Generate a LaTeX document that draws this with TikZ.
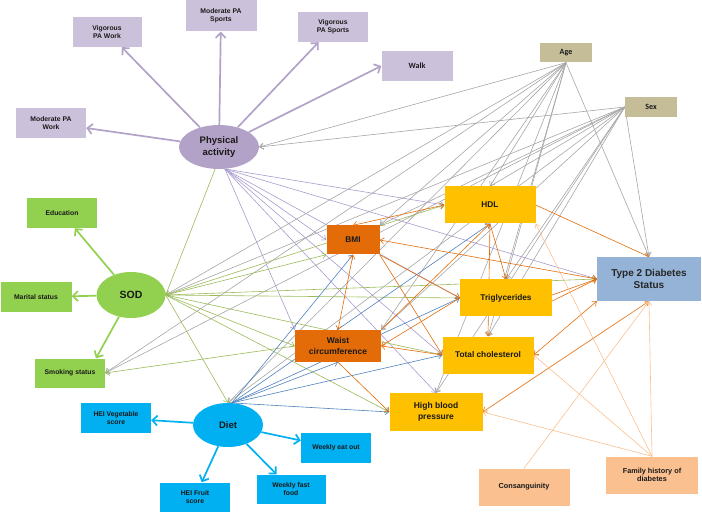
\documentclass[tikz,border=0pt]{standalone}
\usepackage{fontspec}
\setmainfont{Liberation Sans}
\newfontfamily\carl{Carlito}
\usetikzlibrary{arrows.meta,shapes.geometric}
\definecolor{pabox}{HTML}{CCC1DA}
\definecolor{paell}{HTML}{B3A2C7}
\definecolor{pal}{HTML}{A99BCF}
\definecolor{agec}{HTML}{C4BD97}
\definecolor{grn}{HTML}{92D050}
\definecolor{grnl}{HTML}{9BBB59}
\definecolor{dietc}{HTML}{00B0F0}
\definecolor{bl}{HTML}{4F81BD}
\definecolor{org}{HTML}{E36C09}
\definecolor{yel}{HTML}{FFC000}
\definecolor{t2dc}{HTML}{95B3D7}
\definecolor{lor}{HTML}{FAC090}
\definecolor{greyc}{HTML}{A6A6A6}
\pgfdeclarelayer{bg}
\pgfsetlayers{bg,main}
\tikzset{
 base/.style={inner sep=1pt, align=center, text=black!90},
 sbox/.style={base, rectangle, minimum width=70pt, minimum height=30pt, font=\bfseries\fontsize{6.8}{8}\selectfont},
 mbox/.style={base, rectangle, minimum width=91pt, minimum height=37pt, font=\bfseries\fontsize{8.3}{10}\selectfont},
 ell/.style={base, ellipse, inner sep=0pt},
 tn/.style={line width=0.6pt, -{Straight Barb[length=3.8pt,width=6pt]}},
 bidir/.style={line width=0.6pt, {Straight Barb[length=3.8pt,width=6pt]}-{Straight Barb[length=3.8pt,width=6pt]}},
 tk/.style={line width=1.7pt, -{Straight Barb[length=5pt,width=10pt]}},
}
\begin{document}
\begin{tikzpicture}[x=1pt,y=-1pt]
\useasboundingbox (0,0) rectangle (702,513);
% Physical activity cluster
\node[sbox, fill=pabox, minimum width=69pt] (vpw) at (107,32) {Vigorous\\PA Work};
\node[sbox, fill=pabox, minimum width=71pt, minimum height=31pt] (mps) at (221,16) {Moderate PA\\Sports};
\node[sbox, fill=pabox] (vps) at (333,27) {Vigorous\\PA Sports};
\node[sbox, fill=pabox, minimum width=71pt, font=\carl\bfseries\fontsize{8}{9}\selectfont] (walk) at (417,66) {Walk};
\node[sbox, fill=pabox] (mpw) at (51,123) {Moderate PA\\Work};
\node[ell, fill=paell, minimum width=80pt, minimum height=44pt, font=\bfseries\fontsize{9.5}{11.5}\selectfont] (pa) at (219,147) {Physical\\activity};
% Age, Sex
\node[sbox, fill=agec, minimum width=52pt, minimum height=19pt, font=\carl\bfseries\fontsize{8}{9}\selectfont] (age) at (566,53) {Age};
\node[sbox, fill=agec, minimum width=52pt, minimum height=20pt, font=\carl\bfseries\fontsize{8}{9}\selectfont] (sex) at (651,107) {Sex};
% SOD cluster
\node[sbox, fill=grn] (edu) at (62,213) {Education};
\node[ell, fill=grn, minimum width=69pt, minimum height=46pt, font=\bfseries\fontsize{10.5}{12}\selectfont] (sod) at (131,295) {SOD};
\node[sbox, fill=grn, minimum width=71pt] (mar) at (36,297) {Marital status};
\node[sbox, fill=grn, minimum height=29pt] (smk) at (70,373) {Smoking status};
% Mediators and outcome
\node[mbox, fill=org, minimum width=53pt, minimum height=29pt] (bmi) at (353,240) {BMI};
\node[mbox, fill=yel] (hdl) at (490,205) {HDL};
\node[mbox, fill=yel, minimum width=92pt] (trig) at (506,298) {Triglycerides};
\node[base, rectangle, fill=t2dc, minimum width=104pt, minimum height=44pt, font=\bfseries\fontsize{10}{12}\selectfont, text=black!85] (t2d) at (649,279) {Type 2 Diabetes\\Status};
\node[mbox, fill=org, minimum width=86pt, minimum height=32pt, font=\bfseries\fontsize{8.5}{10.5}\selectfont] (waist) at (338,346) {Waist\\circumference};
\node[mbox, fill=yel] (tc) at (488,355) {Total cholesterol};
\node[mbox, fill=yel, minimum width=93pt, minimum height=38pt, font=\bfseries\fontsize{8.5}{10.5}\selectfont] (hbp) at (436,412) {High blood\\pressure};
% Diet cluster
\node[ell, fill=dietc, minimum width=70pt, minimum height=44pt, font=\bfseries\fontsize{9.5}{11}\selectfont] (diet) at (228,425) {Diet};
\node[sbox, fill=dietc] (veg) at (116,418) {HEI Vegetable\\score};
\node[sbox, fill=dietc, minimum height=29pt] (fruit) at (195,497) {HEI Fruit\\score};
\node[sbox, fill=dietc, minimum width=69pt, minimum height=29pt] (wff) at (291,489) {Weekly fast\\food};
\node[sbox, fill=dietc] (weo) at (336,448) {Weekly eat out};
% Family
\node[mbox, fill=lor, font=\bfseries\fontsize{7.3}{8.6}\selectfont] (cons) at (524,487) {Consanguinity};
\node[mbox, fill=lor, minimum width=92pt, font=\bfseries\fontsize{7.3}{8.6}\selectfont] (fam) at (652,475) {Family history of\\diabetes};

\begin{pgfonlayer}{bg}
% measurement arrows
\draw[tk,paell] (pa) -- (vpw);
\draw[tk,paell] (pa) -- (mps);
\draw[tk,paell] (pa) -- (vps);
\draw[tk,paell] (pa) -- (walk.west);
\draw[tk,paell] (pa) -- (mpw);
\draw[tk,grn] (sod) -- (edu);
\draw[tk,grn] (sod) -- (mar);
\draw[tk,grn] (sod) -- ([xshift=26pt]smk.north);
\draw[tk,dietc] (diet) -- (veg);
\draw[tk,dietc] (diet) -- (fruit);
\draw[tk,dietc] (diet) -- (wff);
\draw[tk,dietc] (diet) -- (weo);
% Age and Sex
\foreach \t in {pa.east, sod.east, smk.east, diet.north, bmi.north east, hdl.north, trig.north, waist.north east, tc.north, hbp.north, t2d.north}{
  \draw[tn,greyc] (age.south) -- (\t);
  \draw[tn,greyc] (sex.west) -- (\t);
}
% Physical activity paths
\foreach \t in {bmi.west, hdl.west, trig.west, waist.north west, tc.west, hbp.north, t2d.west}{
  \draw[tn,pal] (pa.-75) -- (\t);
}
% SOD paths
\foreach \t in {bmi.south west, hdl.west, trig.west, t2d.west, waist.west, tc.west, hbp.west, diet.north}{
  \draw[tn,grnl] (sod.east) -- (\t);
}
\draw[tn,grnl] (pa.-100) -- (sod.east);
\draw[tn,grnl] (waist.west) -- (smk.east);
% Diet paths
\foreach \t in {bmi.south, hdl.south, trig.west, waist.south, tc.west, hbp.west}{
  \draw[tn,bl] (diet.80) -- (\t);
}
% Orange paths
\draw[bidir,org] (bmi.north) -- (hdl.west);
\draw[bidir,org] (bmi.east) -- (t2d.west);
\draw[tn,org] (bmi.south east) -- (trig.west);
\draw[tn,org] (bmi.south east) -- (tc.west);
\draw[bidir,org] (bmi.south) -- (waist.north);
\draw[tn,org] (waist.north east) -- (hdl.south);
\draw[tn,org] (waist.south) -- (hbp.west);
\draw[tn,org] (trig.west) -- (waist.east);
\draw[tn,org] (tc.west) -- (waist.east);
\draw[tn,org] (hdl.south) -- (trig.north);
\draw[tn,org] (hdl.south) -- (tc.north);
\draw[tn,org] (hdl.east) -- (t2d.north);
\draw[tn,org] ([yshift=-3pt]trig.east) -- (t2d.west);
\draw[tn,org] ([yshift=3pt]trig.east) -- (t2d.west);
\draw[bidir,org] (tc.east) -- (t2d.south west);
\draw[bidir,org] (hbp.east) -- (t2d.south);
% Family paths
\draw[tn,lor] (fam.north) -- (t2d.south);
\draw[tn,lor] (fam.north) -- (hbp.east);
\draw[tn,lor] (fam.north) -- (tc.east);
\draw[tn,lor] (fam.north) -- (hdl.south east);
\draw[tn,lor] (cons.north) -- (t2d.south);
\end{pgfonlayer}
\end{tikzpicture}
\end{document}
